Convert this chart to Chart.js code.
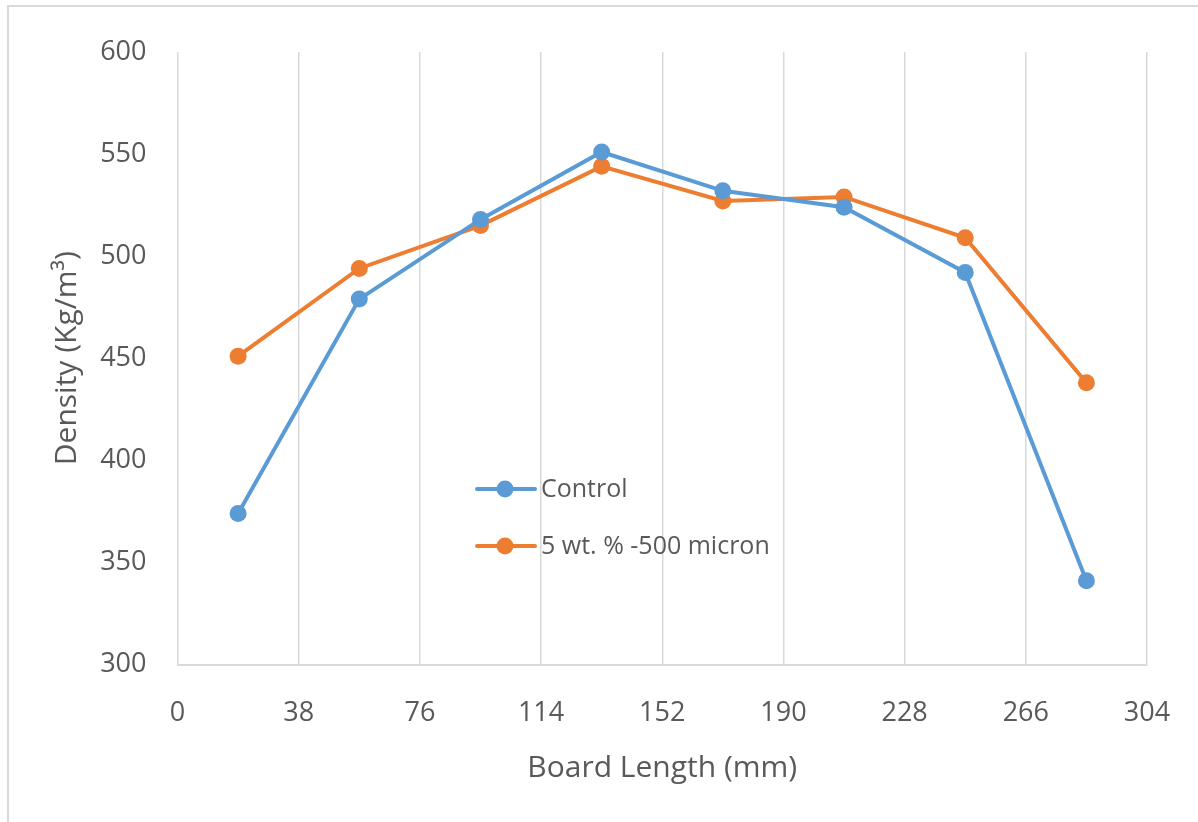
<!DOCTYPE html>
<html>
<head>
<meta charset="utf-8">
<script src="https://cdn.jsdelivr.net/npm/chart.js@4"></script>
<style>
  html, body { margin: 0; padding: 0; background: #ffffff; overflow: hidden; }
  #frame { position: absolute; left: 7px; top: 5px; width: 1300px; height: 900px; border: 2px solid #d9d9d9; }
  #wrap { position: absolute; left: 0; top: 0; width: 1198px; height: 822px; }
</style>
</head>
<body>
<div id="frame"></div>
<div id="wrap"><canvas id="c" width="1198" height="822"></canvas></div>
<script>
// Board length positions (mm) and measured densities (kg/m³)
const boardLength = [19, 57, 95, 133, 171, 209, 247, 285];
const controlDensity = [374, 479, 518, 551, 532, 524, 492, 341];
const filledDensity = [451, 494, 515, 544, 527, 529, 509, 438];
const seriesNames = ['Control', '5 wt. % -500 micron'];
const xTicks = [0, 38, 76, 114, 152, 190, 228, 266, 304];
const yTicks = [300, 350, 400, 450, 500, 550, 600];

const BLUE = '#5b9bd5';
const ORANGE = '#ed7d31';
const TEXT = '#595959';
const GRID = '#d9d9d9';
const FONT = "'Open Sans', sans-serif";

const toPoints = (ys) => boardLength.map((x, i) => ({ x, y: ys[i] }));

// Legend drawn inside the plot area, Excel style (line with a marker)
const innerLegend = {
  id: 'innerLegend',
  afterDatasetsDraw(chart) {
    const ctx = chart.ctx;
    const rows = [489, 546];
    ctx.save();
    chart.data.datasets.forEach((ds, i) => {
      const y = rows[i];
      ctx.strokeStyle = ds.borderColor;
      ctx.lineWidth = 4;
      ctx.lineCap = 'round';
      ctx.beginPath();
      ctx.moveTo(477, y);
      ctx.lineTo(535, y);
      ctx.stroke();
      ctx.fillStyle = ds.backgroundColor;
      ctx.beginPath();
      ctx.arc(505, y, 8.5, 0, Math.PI * 2);
      ctx.fill();
      ctx.fillStyle = TEXT;
      ctx.font = '25px ' + FONT;
      ctx.textBaseline = 'middle';
      ctx.textAlign = 'left';
      ctx.fillText(ds.label, 541, y + 1);
    });
    ctx.restore();
  }
};

new Chart(document.getElementById('c'), {
  type: 'line',
  data: {
    datasets: [
      {
        label: seriesNames[0],
        data: toPoints(controlDensity),
        borderColor: BLUE,
        backgroundColor: BLUE,
        borderWidth: 4,
        pointRadius: 8.5,
        pointBorderWidth: 0,
        pointBackgroundColor: BLUE,
        tension: 0
      },
      {
        label: seriesNames[1],
        data: toPoints(filledDensity),
        borderColor: ORANGE,
        backgroundColor: ORANGE,
        borderWidth: 4,
        pointRadius: 8.5,
        pointBorderWidth: 0,
        pointBackgroundColor: ORANGE,
        tension: 0
      }
    ]
  },
  options: {
    responsive: false,
    animation: false,
    devicePixelRatio: 1,
    layout: { padding: { top: 52, right: 51, left: 0, bottom: 0 } },
    plugins: {
      legend: { display: false },
      tooltip: { enabled: false }
    },
    scales: {
      x: {
        type: 'linear',
        min: 0,
        max: 304,
        afterBuildTicks(scale) { scale.ticks = xTicks.map(v => ({ value: v })); },
        afterFit(scale) {
          scale.height = 157.5;
          scale.paddingRight = 0;
          scale.paddingLeft = 0;
        },
        grid: { color: GRID, lineWidth: 1.5, drawTicks: false },
        border: { color: GRID, width: 2 },
        ticks: {
          color: TEXT,
          font: { family: FONT, size: 27 },
          padding: 33,
          maxRotation: 0
        },
        title: {
          display: true,
          text: 'Board Length (mm)',
          color: TEXT,
          font: { family: FONT, size: 30 },
          padding: { top: 0, bottom: 36 }
        }
      },
      y: {
        type: 'linear',
        min: 300,
        max: 600,
        afterBuildTicks(scale) { scale.ticks = yTicks.map(v => ({ value: v })); },
        afterFit(scale) { scale.width = 177.5; },
        grid: { display: false, drawTicks: false },
        border: { display: false },
        ticks: {
          color: TEXT,
          font: { family: FONT, size: 27 },
          padding: 31
        },
        title: {
          display: true,
          text: 'Density (Kg/m³)',
          color: TEXT,
          font: { family: FONT, size: 30 },
          padding: { top: 49, bottom: 0 }
        }
      }
    }
  },
  plugins: [innerLegend]
});
</script>
</body>
</html>
